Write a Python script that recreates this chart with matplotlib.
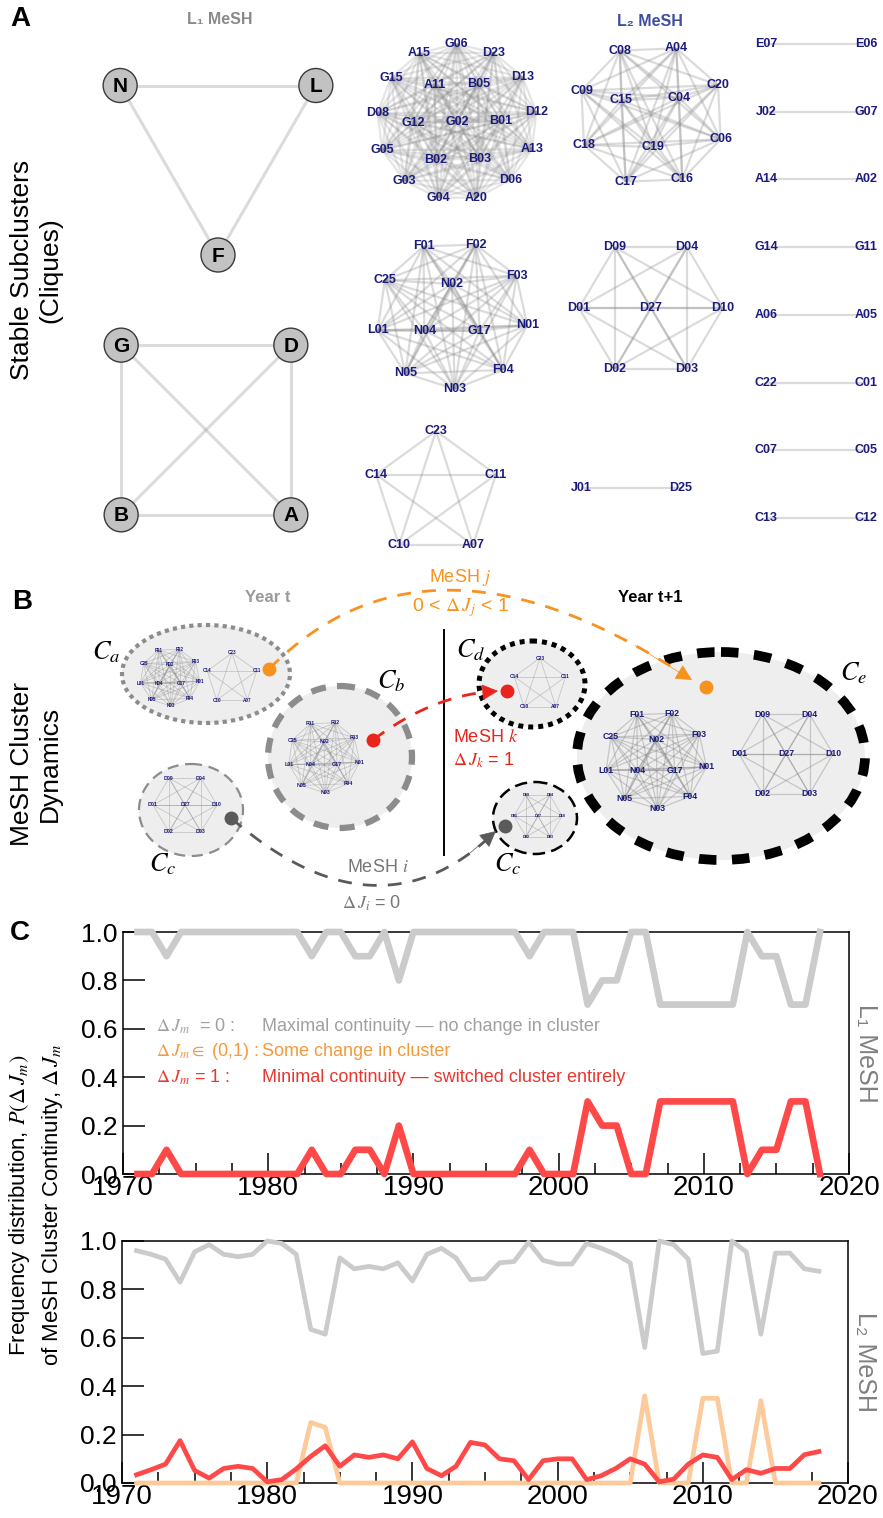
import numpy as np
import matplotlib
matplotlib.use("Agg")
from matplotlib import pyplot as plt
from matplotlib.patches import Ellipse, Circle
from itertools import combinations

plt.rcParams['font.family'] = ['Liberation Sans', 'DejaVu Sans']
plt.rcParams['mathtext.fontset'] = 'stix'

NAVY = "#1b1b7e"
NARROW = ['Liberation Sans Narrow', 'Liberation Sans', 'DejaVu Sans']
GRAY_LINE = "#cbcbcb"
ORANGE_LINE = "#fdcb9b"
RED_LINE = "#ff4848"

# ---- panel C data ----
years = list(range(1971, 2019))

l1_no_change = [1.0, 1.0, 0.9, 1.0,
                1.0, 1.0, 1.0, 1.0, 1.0, 1.0, 1.0, 1.0,
                0.9, 1.0, 1.0, 0.9, 0.9, 1.0, 0.8,
                1.0, 1.0, 1.0, 1.0, 1.0, 1.0, 1.0, 1.0,
                0.9, 1.0, 1.0, 1.0, 0.7, 0.8, 0.8, 1.0, 1.0,
                0.7, 0.7, 0.7, 0.7, 0.7, 0.7,
                1.0, 0.9, 0.9, 0.7, 0.7, 1.0]
l1_switched = [0.0, 0.0, 0.1, 0.0,
               0.0, 0.0, 0.0, 0.0, 0.0, 0.0, 0.0, 0.0,
               0.1, 0.0, 0.0, 0.1, 0.1, 0.0, 0.2,
               0.0, 0.0, 0.0, 0.0, 0.0, 0.0, 0.0, 0.0,
               0.1, 0.0, 0.0, 0.0, 0.3, 0.2, 0.2, 0.0, 0.0,
               0.3, 0.3, 0.3, 0.3, 0.3, 0.3,
               0.0, 0.1, 0.1, 0.3, 0.3, 0.0]

l2_no_change = [0.96, 0.945, 0.925, 0.83, 0.955, 0.985, 0.945, 0.935, 0.945, 1.0,
                0.99, 0.945, 0.635, 0.615, 0.93, 0.885, 0.895, 0.885, 0.91, 0.835,
                0.945, 0.97, 0.93, 0.84, 0.845, 0.91, 0.915, 0.995, 0.92, 0.905,
                0.905, 0.99, 0.97, 0.945, 0.91, 0.56, 1.0, 0.985, 0.925, 0.535,
                0.545, 1.0, 0.955, 0.615, 0.95, 0.95, 0.885, 0.875]
l2_some_change = [0.0, 0.0, 0.0, 0.0, 0.0, 0.0, 0.0, 0.0, 0.0, 0.0,
                  0.0, 0.0, 0.25, 0.23, 0.0, 0.0, 0.0, 0.0, 0.0, 0.0,
                  0.0, 0.0, 0.0, 0.0, 0.0, 0.0, 0.0, 0.0, 0.0, 0.0,
                  0.0, 0.0, 0.0, 0.0, 0.0, 0.36, 0.0, 0.0, 0.0, 0.35,
                  0.35, 0.0, 0.0, 0.34, 0.0, 0.0, 0.0, 0.0]
l2_switched = [0.034, 0.055, 0.078, 0.175, 0.052, 0.02, 0.06, 0.069, 0.06, 0.005,
               0.014, 0.058, 0.11, 0.154, 0.069, 0.116, 0.106, 0.116, 0.1, 0.17,
               0.06, 0.03, 0.069, 0.168, 0.157, 0.1, 0.092, 0.014, 0.092, 0.1,
               0.1, 0.014, 0.03, 0.06, 0.1, 0.078, 0.005, 0.016, 0.078, 0.116,
               0.106, 0.014, 0.055, 0.04, 0.06, 0.06, 0.117, 0.13]

# ---- cliques (panel A / B) ----
l1_triangle = ["N", "L", "F"]
l1_square = ["G", "D", "A", "B"]
big_clique = ["A15", "G06", "D23", "D13", "D12", "A13", "D06", "A20", "G04", "G03",
              "G05", "D08", "G15", "A11", "B05", "B01", "B03", "B02", "G12", "G02"]
c_clique = ["C08", "A04", "C20", "C06", "C16", "C17", "C18", "C09", "C15", "C04", "C19"]
fn_clique = ["F01", "F02", "F03", "N01", "F04", "N03", "N05", "L01", "C25", "N02", "G17", "N04"]
d_clique = ["D09", "D04", "D10", "D03", "D02", "D01", "D27"]
c23_clique = ["C23", "C11", "A07", "C10", "C14"]
lone_pair = ["J01", "D25"]
pair_cliques = [["E07", "E06"], ["J02", "G07"], ["A14", "A02"], ["G14", "G11"],
                ["A06", "A05"], ["C22", "C01"], ["C07", "C05"], ["C13", "C12"]]


def shell_layout(cx, cy, rx, ry, shells):
    xs, ys = [], []
    for n, frac, start in shells:
        ang = np.deg2rad(start - 360.0 / n * np.arange(n))
        xs.extend(cx + frac * rx * np.cos(ang))
        ys.extend(cy - frac * ry * np.sin(ang))
    return np.array(xs), np.array(ys)


def draw_clique(ax, names, xs, ys, fs, lw=1.6, alpha=0.35, node=False):
    for i, j in combinations(range(len(names)), 2):
        ax.plot([xs[i], xs[j]], [ys[i], ys[j]], color="#8a8a8a", alpha=alpha,
                lw=lw, solid_capstyle="butt", zorder=3)
    for name, x, y in zip(names, xs, ys):
        if node:
            ax.add_patch(Circle((x, y), 17, fc="#c2c2c2", ec="#3a3a3a", lw=1.0, zorder=4))
            ax.text(x, y + 1, name, ha="center", va="center", fontsize=fs,
                    fontweight="bold", color="black", family=NARROW, zorder=5)
        else:
            ax.text(x, y, name, ha="center", va="center", fontsize=fs,
                    fontweight="bold", color=NAVY, family=NARROW, zorder=5)


def bezier(p0, p1, p2, n=100):
    t = np.linspace(0, 1, n)[:, None]
    p0, p1, p2 = map(np.asarray, (p0, p1, p2))
    return (1 - t) ** 2 * p0 + 2 * (1 - t) * t * p1 + t ** 2 * p2


def dashed_arrow(ax, p0, p1, p2, color, dashes):
    pts = bezier(p0, p1, p2)
    ax.plot(pts[:-4, 0], pts[:-4, 1], color=color, lw=2.0, dashes=dashes, zorder=6)
    ax.annotate("", xy=pts[-1], xytext=pts[-12],
                arrowprops=dict(arrowstyle="-|>,head_length=0.8,head_width=0.4",
                                color=color, lw=0.5, mutation_scale=13,
                                shrinkA=0, shrinkB=0),
                zorder=7)


fig = plt.figure(figsize=(8.83, 15.18), dpi=100)
canvas = fig.add_axes([0, 0, 1, 1])
canvas.set_xlim(0, 883)
canvas.set_ylim(1518, 0)
canvas.axis("off")

# ================= Panel A =================
canvas.text(10, 6, "A", fontsize=20, fontweight="bold", va="top", ha="left")
canvas.text(36, 270, "Stable Subclusters\n(Cliques)", rotation=90, ha="center",
            va="center", fontsize=19, linespacing=1.25)
canvas.text(220, 20, "L₁ MeSH", ha="center", va="center", fontsize=11.5,
            fontweight="bold", color="#8a8a8a", family=NARROW)
canvas.text(650, 22, "L₂ MeSH", ha="center", va="center", fontsize=11.5,
            fontweight="bold", color="#3f4f9f", family=NARROW)

xs, ys = shell_layout(218, 142, 113, 113, [(3, 1, 150)])
draw_clique(canvas, l1_triangle, xs, ys, 15, lw=2.2, alpha=0.3, node=True)
xs, ys = shell_layout(206, 430, 120, 120, [(4, 1, 135)])
draw_clique(canvas, l1_square, xs, ys, 15, lw=2.2, alpha=0.3, node=True)

xs, ys = shell_layout(457, 122, 80, 78, [(13, 1, 118), (6, 0.55, 121), (1, 0, 0)])
draw_clique(canvas, big_clique, xs, ys, 9, lw=1.6, alpha=0.22)
xs, ys = shell_layout(651, 115, 74, 71, [(8, 1, 115), (3, 0.45, 153)])
draw_clique(canvas, c_clique, xs, ys, 9, lw=1.6, alpha=0.3)
xs, ys = shell_layout(452, 315, 76, 74, [(9, 1, 112), (3, 0.42, 90)])
draw_clique(canvas, fn_clique, xs, ys, 9, lw=1.6, alpha=0.3)
xs, ys = shell_layout(651, 308, 72, 70, [(6, 1, 120), (1, 0, 0)])
draw_clique(canvas, d_clique, xs, ys, 9, lw=1.6, alpha=0.3)
xs, ys = shell_layout(436, 494, 63, 63, [(5, 1, 90)])
draw_clique(canvas, c23_clique, xs, ys, 9, lw=1.6, alpha=0.3)
xs, ys = shell_layout(631, 488, 50, 50, [(2, 1, 180)])
draw_clique(canvas, lone_pair, xs, ys, 9, lw=1.6, alpha=0.3)
row_y = np.linspace(44, 518, len(pair_cliques))
for pair, yy in zip(pair_cliques, row_y):
    xs, ys = shell_layout(816, yy, 50, 50, [(2, 1, 180)])
    draw_clique(canvas, pair, xs, ys, 9, lw=1.6, alpha=0.3)

# ================= Panel B =================
canvas.text(12, 589, "B", fontsize=20, fontweight="bold", va="top", ha="left")
canvas.text(36, 764, "MeSH Cluster\nDynamics", rotation=90, ha="center",
            va="center", fontsize=19, linespacing=1.25)
canvas.text(268, 598, "Year t", ha="center", va="center", fontsize=12,
            fontweight="bold", color="#9a9a9a", family=NARROW)
canvas.text(650, 598, "Year t+1", ha="center", va="center", fontsize=12,
            fontweight="bold", color="black", family=NARROW)
canvas.plot([444, 444], [630, 855], color="black", lw=1.4)

ellipses = [
    ((206, 674), 168, 98, "#8c8c8c", 3.0, (0, (1, 1))),
    ((340, 757), 144, 142, "#8c8c8c", 4.5, (0, (2.4, 1.8))),
    ((191, 810), 104, 92, "#8c8c8c", 1.6, (0, (5, 3))),
    ((532, 684), 106, 86, "black", 3.6, (0, (1, 1))),
    ((535, 818), 84, 72, "black", 1.8, (0, (5, 2.5))),
    ((721, 756), 288, 208, "black", 7.0, (0, (1.8, 1.6))),
]
for center, w, h, ec, lw, ls in ellipses:
    canvas.add_patch(Ellipse(center, w, h, fc="#eeeeee", ec=ec, lw=lw, ls=ls, zorder=1))

xs, ys = shell_layout(170, 677, 30, 29, [(9, 1, 112), (3, 0.42, 90)])
draw_clique(canvas, fn_clique, xs, ys, 3.3, lw=0.6, alpha=0.4)
xs, ys = shell_layout(232, 679, 26, 26, [(5, 1, 90)])
draw_clique(canvas, c23_clique, xs, ys, 3.3, lw=0.6, alpha=0.4)
xs, ys = shell_layout(324, 757, 36, 36, [(9, 1, 112), (3, 0.42, 90)])
draw_clique(canvas, fn_clique, xs, ys, 3.8, lw=0.6, alpha=0.4)
xs, ys = shell_layout(185, 805, 32, 31, [(6, 1, 120), (1, 0, 0)])
draw_clique(canvas, d_clique, xs, ys, 3.8, lw=0.6, alpha=0.4)
xs, ys = shell_layout(540, 685, 27, 27, [(5, 1, 90)])
draw_clique(canvas, c23_clique, xs, ys, 3.5, lw=0.6, alpha=0.4)
xs, ys = shell_layout(538, 816, 24, 24, [(6, 1, 120), (1, 0, 0)])
draw_clique(canvas, d_clique, xs, ys, 2.8, lw=0.6, alpha=0.4)
xs, ys = shell_layout(656, 760, 51, 49, [(9, 1, 112), (3, 0.42, 90)])
draw_clique(canvas, fn_clique, xs, ys, 6.3, lw=0.9, alpha=0.4)
xs, ys = shell_layout(786, 754, 47, 46, [(6, 1, 120), (1, 0, 0)])
draw_clique(canvas, d_clique, xs, ys, 6.3, lw=0.9, alpha=0.4)

for txt, (x, y) in [("a", (106, 652)), ("b", (391, 681)), ("c", (163, 864)),
                    ("d", (471, 650)), ("c", (508, 864)), ("e", (854, 673))]:
    canvas.text(x, y, r"$C_%s$" % txt, fontsize=19, ha="center", va="center")

ORANGE = "#f7921e"
RED = "#e8241c"
DGRAY = "#5a5a5a"
dashed_arrow(canvas, (269, 669), (431, 506), (692, 680), ORANGE, (5, 4))
dashed_arrow(canvas, (373, 740), (434, 694), (498, 691), RED, (5, 4))
dashed_arrow(canvas, (231, 818), (378, 946), (496, 831), DGRAY, (5, 4))
for (x, y), c in [((269, 669), ORANGE), ((706, 687), ORANGE), ((373, 740), RED),
                  ((507, 691), RED), ((231, 818), DGRAY), ((505, 826), DGRAY)]:
    canvas.plot(x, y, "o", color=c, ms=9, zorder=8)

canvas.text(460, 578, "MeSH $j$", color=ORANGE, fontsize=13, ha="center", va="center")
canvas.text(460, 608, r"0 < $\Delta\,J_j$ < 1", color=ORANGE, fontsize=14, ha="center", va="center")
canvas.text(453, 737, "MeSH $k$", color=RED, fontsize=13, ha="left", va="center")
canvas.text(453, 760, r"$\Delta\,J_k$ = 1", color=RED, fontsize=13, ha="left", va="center")
canvas.text(378, 868, "MeSH $i$", color="#777777", fontsize=13, ha="center", va="center")
canvas.text(372, 903, r"$\Delta\,J_i$ = 0", color="#777777", fontsize=13, ha="center", va="center")

# ================= Panel C =================
canvas.text(10, 920, "C", fontsize=20, fontweight="bold", va="top", ha="left")
fig.text(36 / 883, 1 - 1205 / 1518,
         "Frequency distribution, $P(\\Delta\\,J_m)$\nof MeSH Cluster Continuity, $\\Delta\\,J_m$",
         rotation=90, ha="center", va="center", fontsize=16, linespacing=1.45)

ax1 = fig.add_axes([123 / 883, 1 - 1174 / 1518, 726 / 883, 242 / 1518])
ax2 = fig.add_axes([122 / 883, 1 - 1483 / 1518, 726 / 883, 242 / 1518])

ax1.plot(years, l1_no_change, color=GRAY_LINE, lw=4.8, clip_on=False, zorder=3)
ax1.plot(years, l1_switched, color=RED_LINE, lw=4.8, clip_on=False, zorder=4)
ax2.plot(years, l2_no_change, color=GRAY_LINE, lw=3.4, clip_on=False, zorder=3)
ax2.plot(years, l2_some_change, color=ORANGE_LINE, lw=3.4, clip_on=False, zorder=4)
ax2.plot(years, l2_switched, color=RED_LINE, lw=3.4, clip_on=False, zorder=5)

for ax, lab in [(ax1, "L₁ MeSH"), (ax2, "L₂ MeSH")]:
    ax.set_xlim(1970, 2020)
    ax.set_ylim(0, 1.0)
    ax.set_xticks(range(1970, 2021, 10))
    ax.set_xticks(np.arange(1970, 2020.1, 2.5), minor=True)
    ax.set_yticks(np.arange(0, 1.01, 0.2))
    ax.set_yticklabels(["%.1f" % v for v in np.arange(0, 1.01, 0.2)])
    ax.tick_params(axis="x", which="major", direction="in", length=15, width=1.1,
                   labelsize=20, pad=1)
    ax.tick_params(axis="x", which="minor", direction="in", length=8, width=1.1)
    ax.tick_params(axis="y", direction="in", length=16, width=1.1, labelsize=19, pad=4)
    for s in ax.spines.values():
        s.set_linewidth(1.1)
    ax.text(1.023, 0.5, lab, transform=ax.transAxes, rotation=-90, ha="center",
            va="center", fontsize=18, color="#808080")

leg = [(0.61, "#a0a0a0", r"$\Delta\,J_m$  = 0 :", "Maximal continuity — no change in cluster"),
       (0.505, "#f39a3c", r"$\Delta\,J_m \in$ (0,1) :", "Some change in cluster"),
       (0.40, "#e8362e", r"$\Delta\,J_m$ = 1 :", "Minimal continuity — switched cluster entirely")]
for yv, c, pre, desc in leg:
    ax1.text(1972.3, yv, pre, color=c, fontsize=13, ha="left", va="center")
    ax1.text(1979.6, yv, desc, color=c, fontsize=13, ha="left", va="center")

fig.savefig("out.png", dpi=100)
